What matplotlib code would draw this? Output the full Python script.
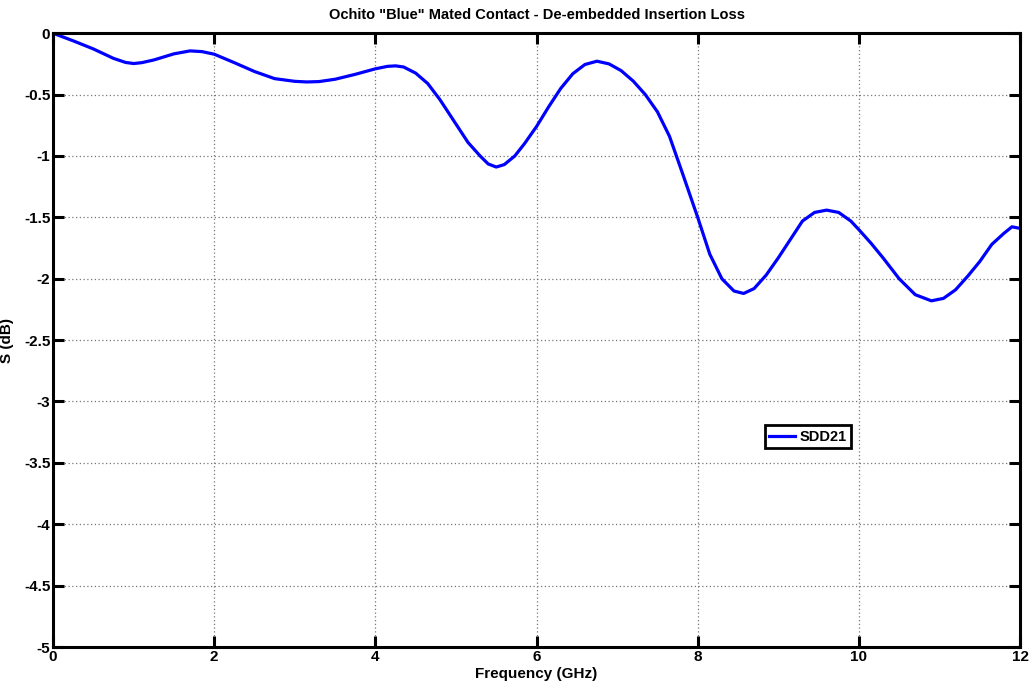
import matplotlib
matplotlib.use("Agg")
import matplotlib.pyplot as plt
from matplotlib import font_manager

# frequency points (GHz) and measured SDD21 (dB)
freq = [0.0, 0.25, 0.5, 0.75, 0.9, 1.0, 1.1, 1.25, 1.5, 1.7, 1.85, 2.0,
        2.25, 2.5, 2.75, 3.0, 3.15, 3.3, 3.5, 3.75, 4.0, 4.15, 4.25, 4.35,
        4.5, 4.65, 4.8, 5.0, 5.15, 5.3, 5.4, 5.5, 5.6, 5.73, 5.85, 6.0,
        6.15, 6.3, 6.45, 6.6, 6.75, 6.9, 7.05, 7.2, 7.35, 7.5, 7.65, 7.8,
        8.0, 8.15, 8.3, 8.45, 8.57, 8.7, 8.85, 9.0, 9.15, 9.3, 9.45, 9.6,
        9.75, 9.9, 10.0, 10.15, 10.3, 10.5, 10.7, 10.9, 11.05, 11.2, 11.35,
        11.5, 11.65, 11.8, 11.9, 12.0]
sdd21 = [0.000, -0.062, -0.128, -0.205, -0.238, -0.247, -0.240, -0.218,
         -0.168, -0.144, -0.150, -0.171, -0.240, -0.312, -0.370, -0.392,
         -0.397, -0.394, -0.375, -0.335, -0.290, -0.270, -0.266, -0.275,
         -0.325, -0.41, -0.54, -0.74, -0.89, -1.00, -1.065, -1.09, -1.07,
         -1.00, -0.90, -0.76, -0.60, -0.45, -0.33, -0.255, -0.228, -0.25,
         -0.305, -0.39, -0.50, -0.64, -0.84, -1.12, -1.50, -1.80, -2.00,
         -2.10, -2.12, -2.08, -1.97, -1.83, -1.68, -1.53, -1.46, -1.441,
         -1.46, -1.53, -1.60, -1.71, -1.83, -2.00, -2.13, -2.18, -2.16,
         -2.09, -1.98, -1.86, -1.72, -1.63, -1.577, -1.59]

xticks = [0, 2, 4, 6, 8, 10, 12]
yticks = [0, -0.5, -1, -1.5, -2, -2.5, -3, -3.5, -4, -4.5, -5]
ytick_labels = ["0", "-0.5", "-1", "-1.5", "-2", "-2.5", "-3", "-3.5", "-4", "-4.5", "-5"]

names = {f.name for f in font_manager.fontManager.ttflist}
family = "Liberation Sans Narrow" if "Liberation Sans Narrow" in names else "Liberation Sans"
plt.rcParams["font.family"] = [family, "DejaVu Sans"]
plt.rcParams["font.weight"] = "bold"

fig = plt.figure(figsize=(10.32, 6.92), dpi=100)
ax = fig.add_axes([0.0514, 0.065, 0.937, 0.887])

ax.plot(freq, sdd21, color="#0000ff", linewidth=2.3, label="SDD21",
        solid_joinstyle="round")

ax.set_xlim(0, 12)
ax.set_ylim(-5, 0)
ax.set_xticks(xticks)
ax.set_yticks(yticks)
ax.set_yticklabels(ytick_labels)
ax.grid(True, color="#777777", linestyle=(0, (1, 2)), linewidth=0.9)
ax.set_axisbelow(True)

for s in ax.spines.values():
    s.set_linewidth(2.2)
ax.tick_params(direction="in", length=8, width=2.2, top=True, right=True,
               labelsize=11, pad=2)

ax.set_title('Ochito "Blue" Mated Contact - De-embedded Insertion Loss',
             fontsize=10.5, fontweight="bold", pad=10)
ax.set_xlabel("Frequency (GHz)", fontsize=11, fontweight="bold", labelpad=2)
ax.set_ylabel("S (dB)", fontsize=11, fontweight="bold")
ax.yaxis.set_label_coords(-0.040, 0.5)

leg = ax.legend(loc="lower left", bbox_to_anchor=(0.736, 0.324), borderaxespad=0,
                fancybox=False, edgecolor="black", framealpha=1, handlelength=1.8,
                handletextpad=0.3, borderpad=0.3,
                prop={"weight": "bold", "size": 10.5})
leg.get_frame().set_linewidth(2)

fig.savefig("out.png", dpi=100)
